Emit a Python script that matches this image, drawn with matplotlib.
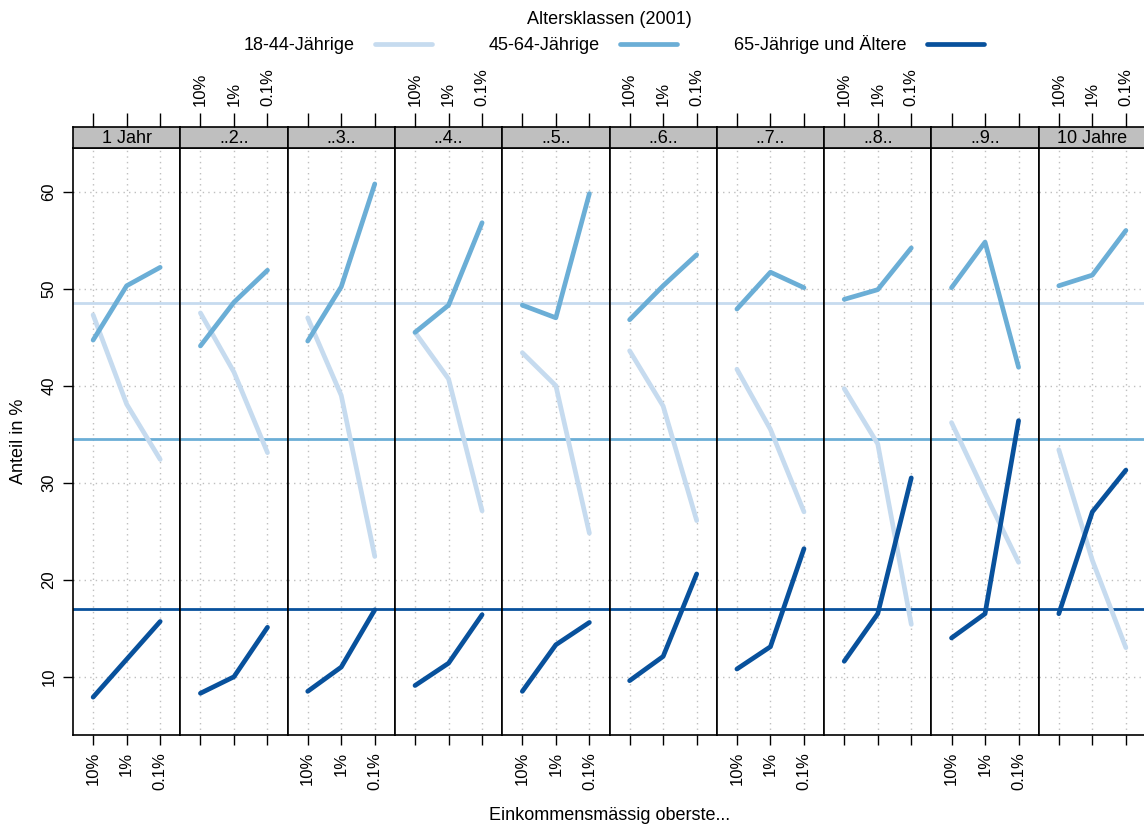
import numpy as np
import matplotlib
matplotlib.use("Agg")
import matplotlib.pyplot as plt

plt.rcParams['font.family'] = ['Liberation Sans', 'DejaVu Sans']

# values (Anteil in %)
panels = ['1 Jahr', '..2..', '..3..', '..4..', '..5..', '..6..', '..7..', '..8..', '..9..', '10 Jahre']
groups = ['10%', '1%', '0.1%']
age_classes = ['18-44-Jährige', '45-64-Jährige', '65-Jährige und Ältere']
colors = ['#c6dbef', '#6baed6', '#08519c']

young = [
    [47.3, 38.1, 32.4], [47.5, 41.4, 33.1], [47.0, 39.0, 22.4], [45.5, 40.7, 27.1],
    [43.4, 40.0, 24.8], [43.6, 37.9, 26.1], [41.7, 35.5, 27.0], [39.7, 34.0, 15.4],
    [36.2, 28.9, 21.8], [33.4, 22.0, 13.0],
]
middle = [
    [44.7, 50.3, 52.2], [44.1, 48.6, 51.9], [44.6, 50.2, 60.8], [45.5, 48.3, 56.8],
    [48.3, 47.0, 59.8], [46.8, 50.3, 53.5], [47.9, 51.7, 50.1], [48.9, 49.9, 54.2],
    [50.1, 54.8, 41.9], [50.3, 51.4, 56.0],
]
old = [
    [7.9, 11.8, 15.7], [8.3, 10.0, 15.1], [8.5, 11.0, 16.9], [9.1, 11.4, 16.4],
    [8.5, 13.3, 15.6], [9.6, 12.1, 20.6], [10.8, 13.1, 23.2], [11.6, 16.5, 30.5],
    [14.0, 16.5, 36.4], [16.5, 27.0, 31.3],
]
# population shares (reference lines)
baseline = [48.5, 34.5, 17.0]

W, H = 1144, 826
fig = plt.figure(figsize=(W / 100, H / 100), dpi=100)

left, right = 73, 1146
top, bottom = 148, 735
strip_h = 21
pw = (right - left) / len(panels)
x = np.arange(1, 4)
tick_fs = 12

for k, name in enumerate(panels):
    x0 = left + k * pw
    ax = fig.add_axes([x0 / W, 1 - bottom / H, pw / W, (bottom - top) / H])
    ax.set_xlim(0.4, 3.6)
    ax.set_ylim(4.0, 64.5)
    ax.set_yticks([10, 20, 30, 40, 50, 60])
    ax.set_xticks(x)
    ax.grid(True, color='#bfbfbf', linestyle=(0, (1, 3)), linewidth=1.0)
    ax.set_axisbelow(True)
    for yv, c in zip(baseline, colors):
        ax.axhline(yv, color=c, linewidth=2, zorder=2)
    for series, c in zip([young, middle, old], colors):
        ax.plot(x, series[k], color=c, linewidth=3.4, solid_capstyle='round', zorder=3)
    for s in ax.spines.values():
        s.set_linewidth(1.2)
    ax.tick_params(axis='x', direction='out', length=7, width=1, labelsize=tick_fs,
                   labelrotation=90, pad=5, top=False)
    if k % 2 == 0:
        ax.set_xticklabels(groups)
    else:
        ax.set_xticklabels([])
    if k == 0:
        ax.tick_params(axis='y', direction='out', length=7, width=1, labelsize=tick_fs, pad=5)
        ax.set_yticklabels([str(v) for v in [10, 20, 30, 40, 50, 60]], rotation=90, va='center')
        ax.set_ylabel('Anteil in %', fontsize=13, labelpad=10)
    else:
        ax.tick_params(axis='y', length=0, labelleft=False)

    # strip with panel title, top ticks above it
    sx = fig.add_axes([x0 / W, 1 - top / H, pw / W, strip_h / H])
    sx.set_facecolor('#bfbfbf')
    sx.set_xlim(0.4, 3.6)
    sx.set_ylim(0, 1)
    sx.set_yticks([])
    sx.set_xticks(x)
    sx.xaxis.tick_top()
    sx.tick_params(axis='x', direction='out', length=10, width=1, labelsize=tick_fs,
                   labelrotation=90, pad=5, bottom=False)
    if k % 2 == 1:
        sx.set_xticklabels(groups)
    else:
        sx.set_xticklabels([])
    for s in sx.spines.values():
        s.set_linewidth(1.2)
    sx.text(2, 0.45, name, ha='center', va='center', fontsize=13)

fig.text((left + right) / 2 / W, 1 - 815 / H, 'Einkommensmässig oberste...',
         ha='center', va='center', fontsize=13)

# legend
fig.text((left + right) / 2 / W, 1 - 19 / H, 'Altersklassen (2001)',
         ha='center', va='center', fontsize=13)
text_right = [355, 600, 907]
for label, c, tr in zip(age_classes, colors, text_right):
    fig.text(tr / W, 1 - 45 / H, label, ha='right', va='center', fontsize=13)
    fig.add_artist(plt.Line2D([(tr + 20) / W, (tr + 77) / W], [1 - 44 / H, 1 - 44 / H],
                              color=c, linewidth=3.4, solid_capstyle='round'))

fig.savefig('out.png', dpi=100)
